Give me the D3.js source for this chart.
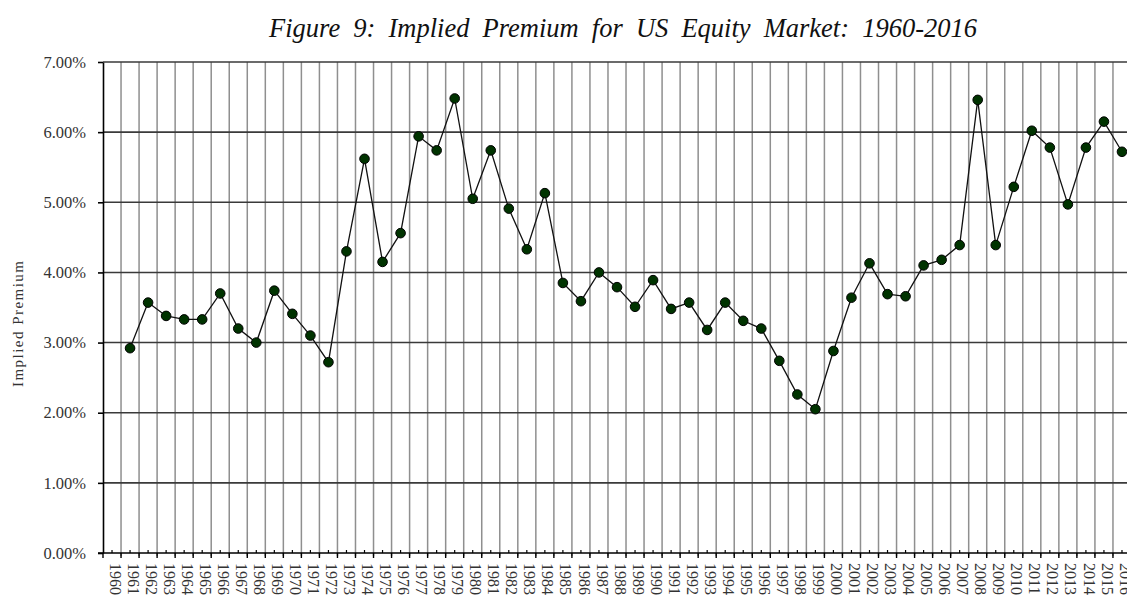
<!DOCTYPE html>

<head>
  <meta charset="utf-8">
  <script src="https://d3js.org/d3.v7.min.js"></script>
  <style>
    body {
      margin: 0;
      background: #fff;
    }

    svg {
      display: block;
    }
  </style>
</head>

<body>
  <svg width="1127" height="601"></svg>
  <script>
    // categories (1960 has no value)
    var years = ['1960', '1961', '1962', '1963', '1964', '1965', '1966', '1967', '1968', '1969',
      '1970', '1971', '1972', '1973', '1974', '1975', '1976', '1977', '1978', '1979',
      '1980', '1981', '1982', '1983', '1984', '1985', '1986', '1987', '1988', '1989',
      '1990', '1991', '1992', '1993', '1994', '1995', '1996', '1997', '1998', '1999',
      '2000', '2001', '2002', '2003', '2004', '2005', '2006', '2007', '2008', '2009',
      '2010', '2011', '2012', '2013', '2014', '2015', '2016'];

    // implied premium in %
    var premium = [null, 2.92, 3.57, 3.38, 3.33, 3.33, 3.70, 3.20, 3.00, 3.74,
      3.41, 3.10, 2.72, 4.30, 5.62, 4.15, 4.56, 5.94, 5.74, 6.48,
      5.05, 5.74, 4.91, 4.33, 5.13, 3.85, 3.59, 4.00, 3.79, 3.51,
      3.89, 3.48, 3.57, 3.18, 3.57, 3.31, 3.20, 2.74, 2.26, 2.05,
      2.88, 3.64, 4.13, 3.69, 3.66, 4.10, 4.18, 4.39, 6.46, 4.39,
      5.22, 6.02, 5.78, 4.97, 5.78, 6.15, 5.72];

    var yTicks = [0, 1, 2, 3, 4, 5, 6, 7];

    var margin = { top: 62, bottom: 48, left: 103, right: -4 };
    var width = 1127;
    var height = 601;
    var serif = '"Liberation Serif", "Times New Roman", serif';

    var data = years.map(function (y, i) {
      return { year: y, value: premium[i] };
    });

    var svg = d3.select('svg');

    var xScale = d3.scaleBand()
      .domain(years)
      .range([margin.left, width - margin.right])
      .padding(0);
    var bw = xScale.bandwidth();

    var yScale = d3.scaleLinear()
      .domain([0, 7])
      .range([height - margin.bottom, margin.top]);

    // vertical gridlines at category boundaries
    var bounds = years.slice(1).map(function (y) { return xScale(y); });
    bounds.push(xScale(years[years.length - 1]) + bw);
    svg.append('g')
      .selectAll('line')
      .data(bounds)
      .enter()
      .append('line')
      .attr('x1', function (d) { return d; })
      .attr('x2', function (d) { return d; })
      .attr('y1', yScale(7))
      .attr('y2', yScale(0) + 3)
      .attr('stroke', '#8f8f8f')
      .attr('stroke-width', 1.5);

    // horizontal gridlines
    svg.append('g')
      .selectAll('line')
      .data(yTicks.slice(1))
      .enter()
      .append('line')
      .attr('x1', margin.left)
      .attr('x2', width)
      .attr('y1', function (d) { return yScale(d); })
      .attr('y2', function (d) { return yScale(d); })
      .attr('stroke', '#3a3a3a')
      .attr('stroke-width', 1.6);

    // y axis
    var yAxis = d3.axisLeft(yScale)
      .tickValues(yTicks)
      .tickFormat(function (d) { return d.toFixed(2) + '%'; })
      .tickSize(5)
      .tickSizeOuter(0)
      .tickPadding(12);
    var gy = svg.append('g')
      .attr('transform', 'translate(' + margin.left + ',0)')
      .call(yAxis);
    gy.select('.domain').attr('stroke', '#000').attr('stroke-width', 1.6);
    gy.selectAll('.tick line').attr('stroke', '#000').attr('stroke-width', 1.6);
    gy.selectAll('text')
      .attr('font-family', serif)
      .attr('font-size', 16.5)
      .attr('fill', '#333');

    // x axis: minor ticks at centers pointing up, labels rotated
    var xAxis = d3.axisBottom(xScale)
      .tickSize(-3)
      .tickSizeOuter(0)
      .tickPadding(0);
    var gx = svg.append('g')
      .attr('transform', 'translate(0,' + yScale(0) + ')')
      .call(xAxis);
    gx.select('.domain').remove();
    gx.selectAll('.tick line').attr('stroke', '#000').attr('stroke-width', 1.2);
    gx.selectAll('text')
      .attr('font-family', serif)
      .attr('font-size', 16)
      .attr('fill', '#333')
      .attr('transform', 'rotate(90)')
      .attr('x', 10)
      .attr('y', 0)
      .attr('dy', '0.15em')
      .attr('text-anchor', 'start');

    // x axis baseline
    svg.append('line')
      .attr('x1', margin.left - 5)
      .attr('x2', width)
      .attr('y1', yScale(0))
      .attr('y2', yScale(0))
      .attr('stroke', '#000')
      .attr('stroke-width', 1.6);

    // major ticks at boundaries pointing down
    svg.append('g')
      .selectAll('line')
      .data([margin.left].concat(bounds))
      .enter()
      .append('line')
      .attr('x1', function (d) { return d; })
      .attr('x2', function (d) { return d; })
      .attr('y1', yScale(0))
      .attr('y2', yScale(0) + 5)
      .attr('stroke', '#000')
      .attr('stroke-width', 1.4);

    // line and markers
    var line = d3.line()
      .defined(function (d) { return d.value != null; })
      .x(function (d) { return xScale(d.year) + bw / 2; })
      .y(function (d) { return yScale(d.value); });

    svg.append('path')
      .datum(data)
      .attr('d', line)
      .attr('fill', 'none')
      .attr('stroke', '#111')
      .attr('stroke-width', 1.3);

    svg.append('g')
      .selectAll('circle')
      .data(data.filter(function (d) { return d.value != null; }))
      .enter()
      .append('circle')
      .attr('cx', function (d) { return xScale(d.year) + bw / 2; })
      .attr('cy', function (d) { return yScale(d.value); })
      .attr('r', 4.8)
      .attr('fill', '#003300')
      .attr('stroke', '#000')
      .attr('stroke-width', 1);

    // title, widened through word spacing
    var title = svg.append('text')
      .attr('x', 623)
      .attr('y', 37)
      .attr('text-anchor', 'middle')
      .attr('font-family', serif)
      .attr('font-style', 'italic')
      .attr('font-size', 26.5)
      .attr('fill', '#111')
      .text('Figure 9: Implied Premium for US Equity Market: 1960-2016');
    var natural = title.node().getComputedTextLength();
    var gaps = 8;
    if (natural < 708) title.attr('word-spacing', (708 - natural) / gaps);

    // y label
    svg.append('text')
      .attr('transform', 'translate(23,' + 324 + ') rotate(-90)')
      .attr('text-anchor', 'middle')
      .attr('font-family', serif)
      .attr('font-size', 15)
      .attr('fill', '#333')
      .attr('textLength', 126)
      .attr('lengthAdjust', 'spacing')
      .text('Implied Premium');
  </script>
</body>
